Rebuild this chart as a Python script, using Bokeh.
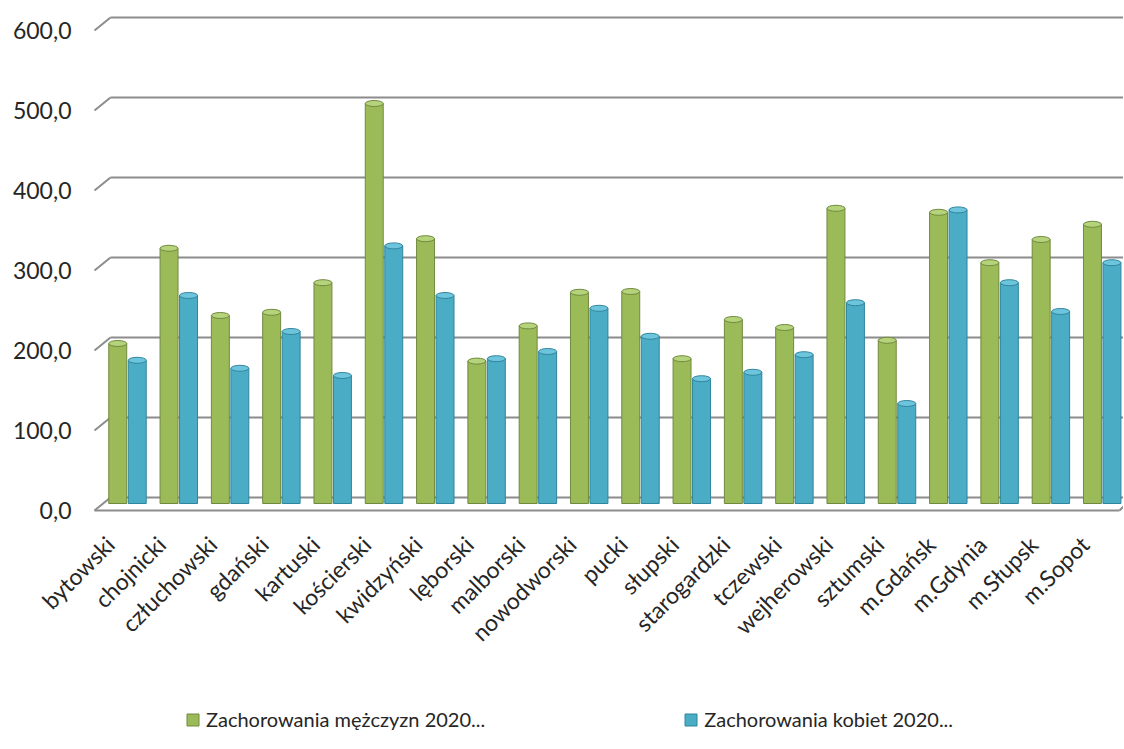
import math
from bokeh.plotting import figure
from bokeh.models import ColumnDataSource, Range1d, Legend, LegendItem
from bokeh.core.properties import value
from bokeh.transform import dodge
from bokeh.embed import file_html
from bokeh.resources import INLINE

categories = ["bytowski", "chojnicki", "człuchowski", "gdański", "kartuski", "kościerski",
              "kwidzyński", "lęborski", "malborski", "nowodworski", "pucki", "słupski",
              "starogardzki", "tczewski", "wejherowski", "sztumski", "m.Gdańsk", "m.Gdynia",
              "m.Słupsk", "m.Sopot"]
men_2020 = [200, 319, 235, 239, 276, 500, 331, 178, 222, 264, 265, 181, 230, 220, 369, 204, 364, 301, 330, 349]
women_2020 = [179, 260, 169, 215, 160, 322, 260, 181, 190, 244, 209, 156, 164, 186, 251, 125, 367, 276, 240, 301]
series_names = ["Zachorowania mężczyzn 2020...", "Zachorowania kobiet 2020..."]
y_ticks = [0, 100, 200, 300, 400, 500, 600]
y_tick_labels = [f"{t:.1f}".replace(".", ",") for t in y_ticks]

FONT = "Lato"
GREEN, GREEN_D, GREEN_T = "#9bbb59", "#71893f", "#b5d37a"
BLUE, BLUE_D, BLUE_T = "#4bacc6", "#31859c", "#6cc5dc"
TXT = "#262626"
GRID = "#8c8c8c"

# layout: one category = PITCH px, first category centred at X0 px; 0.8 px per value unit, 0 at Y0 px
W, H = 1123, 748
PITCH, X0 = 51.3, 127.0
PXU, Y0 = 0.8, 503.0
def px_x(px):
    return (px - X0) / PITCH
x_start, x_end = px_x(0), px_x(W)
y_end = Y0 / PXU
y_start = y_end - H / PXU
BACK = 6 / PXU    # back wall is 6 px above the bar scale
FRONT = 7 / PXU   # front edge 7 px below the bar scale

src = ColumnDataSource(dict(idx=list(range(len(categories))), cat=categories,
                            men=men_2020, women=women_2020))

p = figure(frame_width=W, frame_height=H, x_range=Range1d(x_start, x_end),
           y_range=Range1d(y_start, y_end), output_backend="svg", toolbar_location=None,
           min_border_left=0, min_border_right=0, min_border_top=0, min_border_bottom=0)
p.outline_line_color = None
p.background_fill_color = "white"
p.xaxis.visible = False
p.yaxis.visible = False
p.xgrid.visible = False
p.ygrid.visible = False

# back-wall gridlines with their diagonal side stubs, and the front floor edge
gsrc = ColumnDataSource(dict(t=y_ticks, lab=y_tick_labels,
                             back=[t + BACK for t in y_ticks], front=[t - FRONT for t in y_ticks]))
p.segment(x0=px_x(110), x1=x_end, y0="back", y1="back", source=gsrc, line_color=GRID, line_width=2)
p.segment(x0=px_x(94), x1=px_x(110), y0="front", y1="back", source=gsrc, line_color=GRID, line_width=2)
p.segment(x0=px_x(94), x1=px_x(1119), y0=-FRONT, y1=-FRONT, line_color=GRID, line_width=2)
p.segment(x0=px_x(1119), x1=x_end, y0=-FRONT, y1=-FRONT + 4 / PXU, line_color=GRID, line_width=2)

off = 0.19
w = 0.35
r1 = p.vbar(x=dodge("idx", -off), top="men", bottom=0, width=w, source=src,
            fill_color=GREEN, line_color=GREEN_D, line_width=1)
p.ellipse(x=dodge("idx", -off), y="men", width=w, height=6, height_units="screen",
          source=src, fill_color=GREEN_T, line_color=GREEN_D, line_width=1)
r2 = p.vbar(x=dodge("idx", off), top="women", bottom=0, width=w, source=src,
            fill_color=BLUE, line_color=BLUE_D, line_width=1)
p.ellipse(x=dodge("idx", off), y="women", width=w, height=6, height_units="screen",
          source=src, fill_color=BLUE_T, line_color=BLUE_D, line_width=1)

# y tick labels
p.text(x=px_x(71), y="front", text="lab", source=gsrc, text_align="right", text_baseline="middle",
       text_font=value(FONT), text_font_size=value("23px"), text_color=TXT)

# category labels, rotated
p.text(x=dodge("idx", -0.34), y=-46, text="cat", source=src,
       angle=math.pi / 4, text_align="right", text_baseline="middle",
       text_font=value(FONT), text_font_size=value("23px"), text_color=TXT)

legend = Legend(items=[LegendItem(label=series_names[0], renderers=[r1]),
                       LegendItem(label=series_names[1], renderers=[r2])],
                orientation="horizontal", location=(185, 17), spacing=198,
                glyph_width=15, glyph_height=15, label_standoff=6,
                label_text_font=FONT, label_text_font_size="20px", label_text_color=TXT,
                border_line_color=None, background_fill_alpha=0, margin=0, padding=0)
p.add_layout(legend, "center")

open("out.html", "w").write(file_html(p, INLINE))
